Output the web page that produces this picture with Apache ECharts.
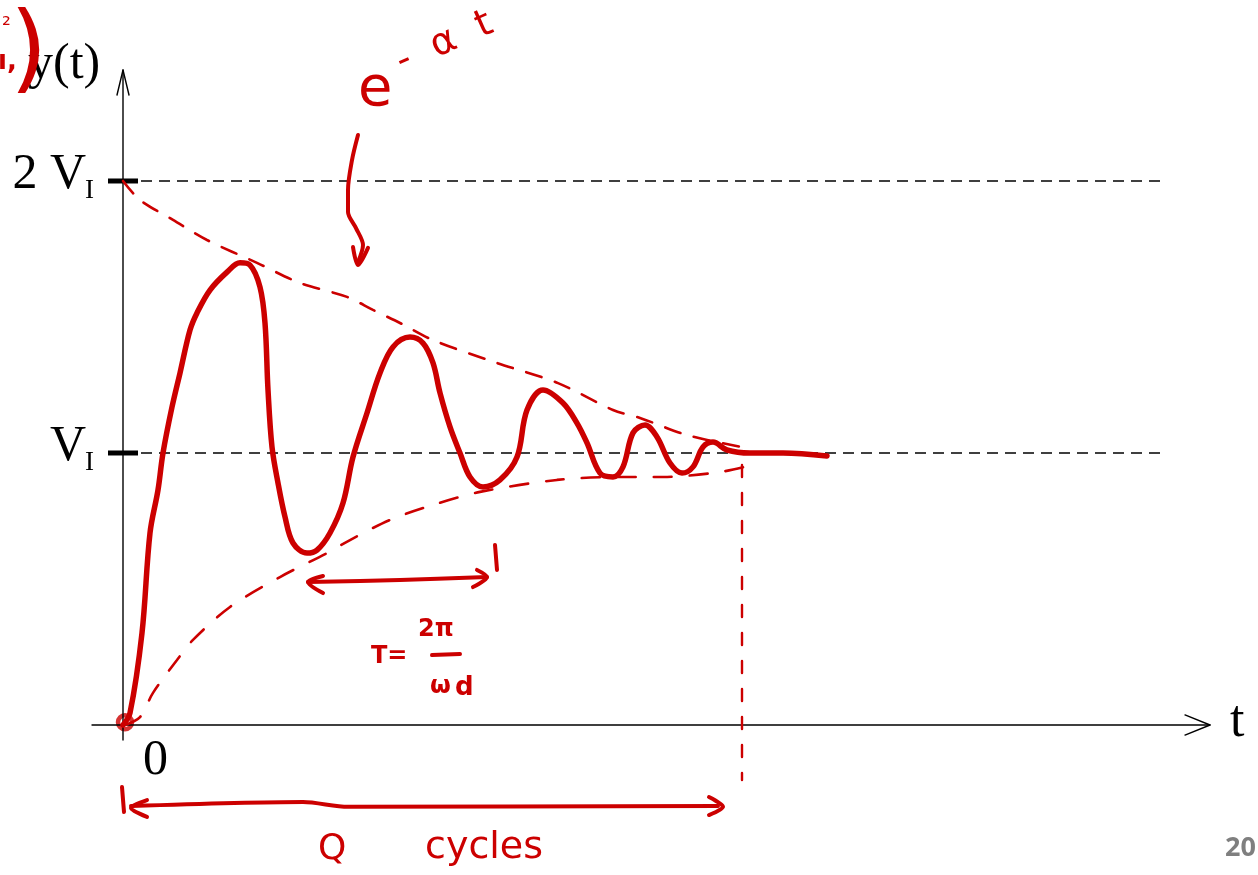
<!DOCTYPE html>
<html>
<head>
<meta charset="utf-8">
<script src="https://cdn.jsdelivr.net/npm/echarts@6/dist/echarts.min.js"></script>
<style>
  html, body { margin: 0; padding: 0; background: #fff; }
  #chart { width: 1258px; height: 875px; }
</style>
</head>
<body>
<div id="chart"></div>
<script>
// Step response of an underdamped second-order system, y(t) in units of V_I.
// Points are [t, y]; t in arbitrary time units, y in multiples of V_I.
const responseCurve = [
  [0, 0], [0.07, 0.044], [0.19, 0.338], [0.27, 0.706], [0.35, 0.864], [0.40, 1.0],
  [0.49, 1.169], [0.57, 1.294], [0.67, 1.452], [0.74, 1.515], [0.87, 1.599],
  [1.04, 1.665], [1.17, 1.699], [1.27, 1.691], [1.37, 1.610], [1.42, 1.478],
  [1.45, 1.232], [1.49, 1.022], [1.55, 0.890], [1.62, 0.765], [1.70, 0.669],
  [1.84, 0.632], [1.94, 0.643], [2.07, 0.706], [2.20, 0.816], [2.30, 0.985],
  [2.44, 1.147], [2.57, 1.294], [2.70, 1.390], [2.87, 1.426], [3.00, 1.404],
  [3.10, 1.331], [3.17, 1.221], [3.27, 1.096], [3.37, 1.0], [3.47, 0.912],
  [3.60, 0.875], [3.77, 0.901], [3.94, 0.985], [4.04, 1.158], [4.20, 1.232],
  [4.40, 1.184], [4.54, 1.110], [4.64, 1.037], [4.77, 0.926], [4.90, 0.912],
  [5.00, 0.949], [5.10, 1.074], [5.22, 1.103], [5.34, 1.059], [5.47, 0.963],
  [5.59, 0.926], [5.70, 0.949], [5.80, 1.022], [5.90, 1.040], [6.04, 1.011],
  [6.27, 1.0], [6.60, 1.0], [7.04, 0.989]
];

// Decay envelopes ~ e^{-αt} sketched around the response
const upperEnvelope = [
  [0, 2.0], [0.17, 1.930], [0.50, 1.857], [0.84, 1.783], [1.34, 1.699], [1.77, 1.625],
  [2.24, 1.574], [2.50, 1.526], [2.77, 1.478], [3.10, 1.415], [3.74, 1.331],
  [4.35, 1.257], [4.90, 1.158], [5.17, 1.129], [5.64, 1.066], [6.24, 1.018]
];
const lowerEnvelope = [
  [0.02, 0.0], [0.17, 0.029], [0.30, 0.118], [0.54, 0.239], [0.70, 0.313], [1.07, 0.434],
  [1.57, 0.544], [2.04, 0.632], [2.27, 0.680], [2.67, 0.754], [3.10, 0.809],
  [3.57, 0.857], [4.34, 0.901], [4.97, 0.912], [5.40, 0.912], [5.97, 0.930], [6.37, 0.963]
];

// Reference levels (multiples of V_I) and their tick labels
const levelValues = [1, 2];
const levelLabels = ['V', '2 V'];
const levelEnd = 10.42;

// Axis extents
const tAxisRange = [-0.31, 10.87];
const yAxisRange = [-0.055, 2.408];

// Hand-drawn annotation strokes, in the same [t, y] units
const settleMarker = [[6.19, 0.956], [6.19, -0.202]];
const periodArrow = [[1.85, 0.526], [2.77, 0.533], [3.64, 0.544]];
const periodHeadL = [[2.00, 0.548], [1.85, 0.526], [2.00, 0.485]];
const periodHeadR = [[3.54, 0.570], [3.64, 0.544], [3.50, 0.507]];
const periodTick = [[3.72, 0.662], [3.74, 0.570]];
const fractionBar = [[3.09, 0.257], [3.37, 0.261]];
const qArrow = [[0.08, -0.298], [1.80, -0.283], [2.25, -0.301], [5.95, -0.298]];
const qHeadL = [[0.24, -0.276], [0.08, -0.305], [0.24, -0.338]];
const qHeadR = [[5.86, -0.265], [6.00, -0.301], [5.86, -0.331]];
const qTick = [[-0.01, -0.228], [0.01, -0.320]];
const envelopePointer = [
  [2.35, 2.169], [2.29, 2.077], [2.25, 1.967], [2.25, 1.886], [2.33, 1.827],
  [2.40, 1.765], [2.35, 1.702]
];
const envelopePointerHead = [[2.30, 1.757], [2.35, 1.691], [2.45, 1.754]];

const RED = '#cc0000';
const INK = '#000000';

function stroke(data, color, width, extra) {
  return Object.assign({
    type: 'line', data: data, symbol: 'none', silent: true, animation: false,
    clip: false,
    lineStyle: { color: color, width: width, cap: 'round', join: 'round' }
  }, extra || {});
}

const series = [];

// Axes with open arrowheads
series.push(stroke([[tAxisRange[0], 0], [tAxisRange[1], 0]], INK, 1.4));
series.push(stroke([[tAxisRange[1] - 0.25, 0.037], [tAxisRange[1], 0], [tAxisRange[1] - 0.25, -0.037]], INK, 1.4));
series.push(stroke([[0, yAxisRange[0]], [0, yAxisRange[1]]], INK, 1.4));
series.push(stroke([[-0.06, yAxisRange[1] - 0.092], [0, yAxisRange[1]], [0.06, yAxisRange[1] - 0.092]], INK, 1.4));

// Reference levels: dashed lines and heavy tick marks
levelValues.forEach(function (v) {
  series.push(stroke([[0, v], [levelEnd, v]], INK, 1.5, {
    lineStyle: { color: INK, width: 1.5, type: [11, 7] }
  }));
  series.push(stroke([[-0.15, v], [0.15, v]], INK, 5, {
    lineStyle: { color: INK, width: 5, cap: 'butt' }
  }));
});

// Envelopes
series.push(stroke(upperEnvelope, RED, 2.6, {
  smooth: 0.3, lineStyle: { color: RED, width: 2.6, type: [16, 14], cap: 'round' }
}));
series.push(stroke(lowerEnvelope, RED, 2.6, {
  smooth: 0.3, lineStyle: { color: RED, width: 2.6, type: [18, 18], cap: 'round' }
}));
series.push(stroke(settleMarker, RED, 2.4, {
  lineStyle: { color: RED, width: 2.4, type: [12, 16], cap: 'round' }
}));

// Response
series.push(stroke(responseCurve, RED, 5.5, { smooth: 0.35 }));

// Origin marker
series.push({
  type: 'scatter', data: [[0.02, 0.01]], symbol: 'circle', symbolSize: 14,
  silent: true, animation: false,
  itemStyle: { color: 'rgba(255,255,255,0)', borderColor: RED, borderWidth: 4.5 }
});

// Annotation strokes
[periodArrow, periodHeadL, periodHeadR, periodTick, qArrow, qHeadL, qHeadR, qTick,
 envelopePointer, envelopePointerHead, fractionBar].forEach(function (d) {
  series.push(stroke(d, RED, 4, { smooth: 0.3 }));
});

const chart = echarts.init(document.getElementById('chart'), null, { renderer: 'canvas' });

chart.setOption({
  backgroundColor: '#ffffff',
  animation: false,
  grid: { left: 0, right: 0, top: 0, bottom: 0 },
  xAxis: { type: 'value', min: -1.23, max: 11.35, show: false },
  yAxis: { type: 'value', min: -0.5515, max: 2.6654, show: false },
  series: series
});

// Text: level labels placed from their values, other labels as annotations
const SERIF = '"Liberation Serif", "DejaVu Serif", serif';
const HAND = '"DejaVu Sans", "Noto Sans", sans-serif';

function txt(x, y, text, font, fill, align, extra) {
  return Object.assign({
    type: 'text', x: x, y: y, silent: true,
    style: { text: text, font: font, fill: fill, align: align || 'left', verticalAlign: 'middle' }
  }, extra || {});
}

const graphics = [];
levelValues.forEach(function (v, i) {
  const p = chart.convertToPixel({ gridIndex: 0 }, [0, v]);
  graphics.push(txt(p[0] - 37, p[1] - 6, levelLabels[i], '50px ' + SERIF, INK, 'right'));
  graphics.push(txt(p[0] - 38, p[1] + 10, 'I', '27px ' + SERIF, INK, 'left'));
});
const o = chart.convertToPixel({ gridIndex: 0 }, [0, 0]);
graphics.push(txt(o[0] + 20, o[1] + 36, '0', '50px ' + SERIF, INK, 'left'));
const tEnd = chart.convertToPixel({ gridIndex: 0 }, [tAxisRange[1], 0]);
graphics.push(txt(tEnd[0] + 20, tEnd[1] - 3, 't', '52px ' + SERIF, INK, 'left'));
const yTop = chart.convertToPixel({ gridIndex: 0 }, [0, yAxisRange[1]]);
graphics.push(txt(yTop[0] - 95, yTop[1] - 5, 'y(t)', '50px ' + SERIF, INK, 'left'));

// Handwritten notes
graphics.push(txt(358, 90, 'e', '56px ' + HAND, RED, 'left'));
graphics.push(txt(398, 64, '-  α  t', '38px ' + HAND, RED, 'left', { rotation: 0.42 }));
graphics.push(txt(371, 657, 'T=', 'bold 24px ' + HAND, RED, 'left'));
graphics.push(txt(418, 630, '2π', 'bold 24px ' + HAND, RED, 'left'));
graphics.push(txt(430, 687, 'ω', 'bold 24px ' + HAND, RED, 'left'));
graphics.push(txt(455, 688, 'd', 'bold 26px ' + HAND, RED, 'left'));
graphics.push(txt(318, 850, 'Q', '36px ' + HAND, RED, 'left'));
graphics.push(txt(425, 848, 'cycles', '38px ' + HAND, RED, 'left'));
graphics.push(txt(10, 55, ')', '96px ' + HAND, RED, 'left'));
graphics.push(txt(2, 26, '²', '22px ' + HAND, RED, 'left'));
graphics.push(txt(-2, 62, 'ı,', 'bold 26px ' + HAND, RED, 'left'));

// Page number
graphics.push(txt(1256, 848, '20', 'bold 27px "Open Sans", "Liberation Sans", sans-serif', '#7f7f7f', 'right'));

chart.setOption({ graphic: graphics });
</script>
</body>
</html>
